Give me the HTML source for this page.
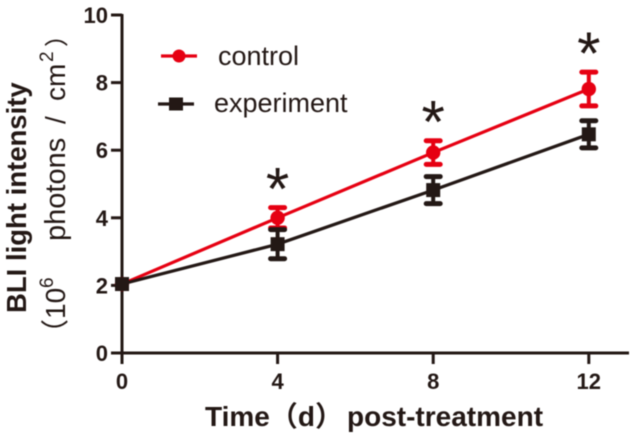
<!DOCTYPE html>
<html>
<head>
<meta charset="utf-8">
<title>BLI light intensity chart</title>
<style>
html,body{margin:0;padding:0;background:#fff;width:636px;height:438px;overflow:hidden}
svg{display:block;filter:blur(0.45px)}
text{font-family:"Liberation Sans","Noto Sans CJK SC",sans-serif;fill:#231815}
</style>
</head>
<body>
<svg id="chart" width="636" height="438" viewBox="0 0 636 438" xmlns="http://www.w3.org/2000/svg"></svg>
<script>
const days = [0, 4, 8, 12];
const controlValues = [2.04, 4.0, 5.93, 7.81];
const controlErrors = [0, 0.3, 0.35, 0.5];
const experimentValues = [2.04, 3.22, 4.82, 6.47];
const experimentErrors = [0, 0.43, 0.4, 0.4];
const yTicks = [0, 2, 4, 6, 8, 10];
const xTicks = [0, 4, 8, 12];
const significantDays = [4, 8, 12];

const NS = 'http://www.w3.org/2000/svg';
const svg = document.getElementById('chart');
const INK = '#231815';
const RED = '#e60012';
const xAt = d => 122 + d * 38.9;
const yAt = v => 353 - v * 33.8;

function add(tag, attrs, text) {
  const el = document.createElementNS(NS, tag);
  for (const k in attrs) el.setAttribute(k, attrs[k]);
  if (text !== undefined) el.textContent = text;
  svg.appendChild(el);
  return el;
}

// Axes
const yAxis = add('line', {x1: 122, y1: yAt(10) - 1, x2: 122, y2: 354, stroke: INK, 'stroke-width': 3});


const xAxis = add('line', {x1: 111, y1: 353, x2: 629, y2: 353, stroke: INK, 'stroke-width': 3});



yTicks.forEach(v => {
  const t = add('line', {x1: 111, y1: yAt(v), x2: 122, y2: yAt(v), stroke: INK, 'stroke-width': 3});
  
  
  const l = add('text', {x: 108, y: yAt(v) + 8, 'text-anchor': 'end', 'font-size': 22, 'font-weight': 700}, v);
  
  
});
xTicks.forEach(d => {
  const t = add('line', {x1: xAt(d), y1: 353, x2: xAt(d), y2: 364, stroke: INK, 'stroke-width': 3});
  
  
  const l = add('text', {x: xAt(d), y: 389, 'text-anchor': 'middle', 'font-size': 22, 'font-weight': 700}, d);
  
  
});

function drawSeries(name, values, errors, color, marker) {
  const pts = values.map((v, i) => xAt(days[i]) + ',' + yAt(v)).join(' ');
  const line = add('polyline', {points: pts, fill: 'none', stroke: color, 'stroke-width': 3.2});
  
  
  values.forEach((v, i) => {
    const cx = xAt(days[i]), hi = yAt(v + errors[i]), lo = yAt(v - errors[i]);
    if (errors[i] > 0) {
      const stem = add('path', {d: 'M' + cx + ' ' + hi + 'V' + lo, fill: 'none', stroke: color, 'stroke-width': 4});
      
      
      const caps = add('path', {
        d: 'M' + (cx - 7) + ' ' + hi + 'H' + (cx + 7) + 'M' + (cx - 7) + ' ' + lo + 'H' + (cx + 7),
        fill: 'none', stroke: color, 'stroke-width': 5, 'stroke-linecap': 'round'
      });
      
      
    }
    let m;
    if (marker === 'circle') {
      m = add('circle', {cx: cx, cy: yAt(v), r: 7.2, fill: color});
    } else {
      m = add('rect', {x: cx - 7, y: yAt(v) - 7, width: 14, height: 14, fill: color});
    }
    
    
  });
}
drawSeries('control', controlValues, controlErrors, RED, 'circle');
drawSeries('experiment', experimentValues, experimentErrors, INK, 'square');

// Significance markers
significantDays.forEach(d => {
  const i = days.indexOf(d);
  const top = yAt(controlValues[i] + controlErrors[i]);
  const s = add('text', {x: xAt(d), y: top + 2, 'text-anchor': 'middle', 'font-size': 60}, '*');
  
  
});

// Legend
const lg1 = add('line', {x1: 161, y1: 56, x2: 197, y2: 56, stroke: RED, 'stroke-width': 3.2});


const lm1 = add('circle', {cx: 179, cy: 56, r: 6.5, fill: RED});


const lt1 = add('text', {x: 218, y: 65, 'font-size': 27}, 'control');


const lg2 = add('line', {x1: 158, y1: 104, x2: 194, y2: 104, stroke: INK, 'stroke-width': 3.2});


const lm2 = add('rect', {x: 169, y: 97.5, width: 14, height: 13, fill: INK});


const lt2 = add('text', {x: 214, y: 112, 'font-size': 27}, 'experiment');



// Axis titles
const xt = add('text', {x: 205, y: 426, 'font-size': 28, 'font-weight': 700}, 'Time（d）');


const xp = add('text', {x: 347, y: 426, 'font-size': 28, 'font-weight': 700}, 'post-treatment');


const yt = add('text', {transform: 'translate(26,313) rotate(-90)', 'font-size': 27.5, 'font-weight': 700}, 'BLI light intensity');


const yu = add('text', {transform: 'translate(65,347) rotate(-90)', 'font-size': 28}, '（10');


const yu6 = add('text', {transform: 'translate(53,288) rotate(-90)', 'font-size': 19}, '6');


const yu2 = add('text', {transform: 'translate(65,241) rotate(-90)', 'font-size': 29}, 'photons');


const yu5 = add('text', {transform: 'translate(65,124) rotate(-90)', 'font-size': 28}, '/');


const yu7 = add('text', {transform: 'translate(65,101) rotate(-90)', 'font-size': 28}, 'cm');


const yu3 = add('text', {transform: 'translate(53,62) rotate(-90)', 'font-size': 19}, '2');


const yu4 = add('text', {transform: 'translate(65,47) rotate(-90)', 'font-size': 24}, '）');


</script>
</body>
</html>
